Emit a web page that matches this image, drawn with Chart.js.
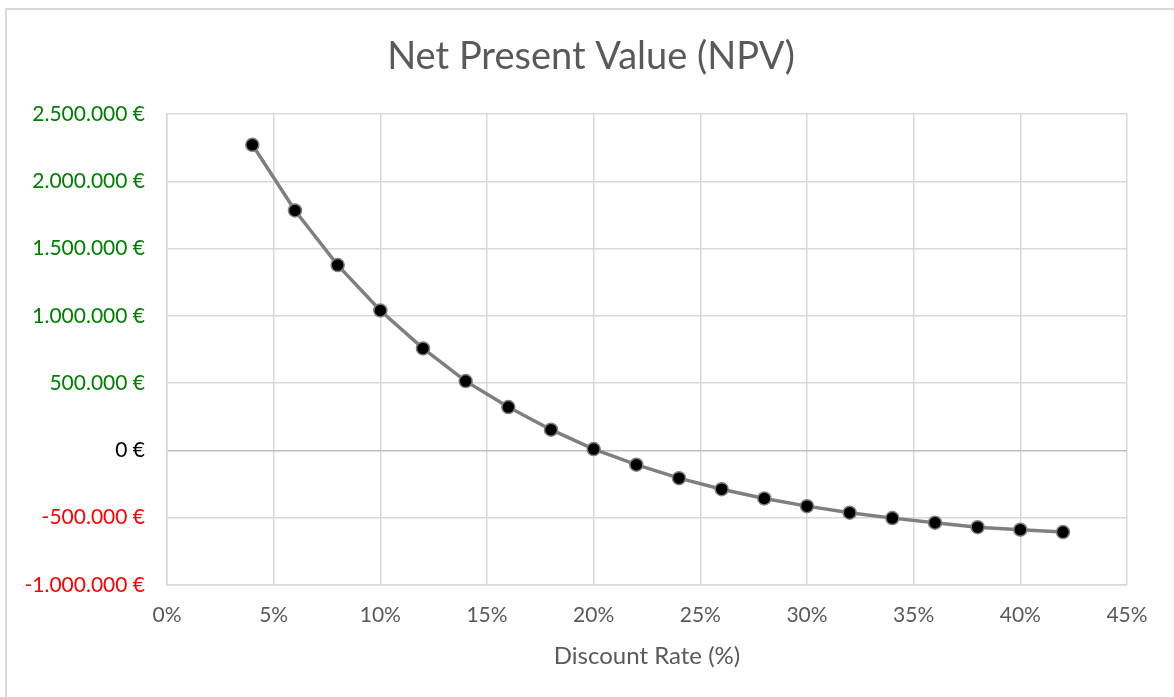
<!DOCTYPE html>
<html>
<head>
<meta charset="utf-8">
<script src="https://cdn.jsdelivr.net/npm/chart.js@4.4.1/dist/chart.umd.min.js"></script>
<style>
  html, body { margin: 0; padding: 0; background: #fff; overflow: hidden; }
  #wrap { position: absolute; left: 0; top: 0; width: 1174px; height: 697px; }
  #frame { position: absolute; left: 5px; top: 8px; width: 1200px; height: 720px;
           border-left: 2px solid #d9d9d9; border-top: 2px solid #d9d9d9; box-sizing: border-box; }
  canvas { position: absolute; left: 0; top: 0; }
</style>
</head>
<body>
<div id="wrap">
  <div id="frame"></div>
  <canvas id="c" width="1174" height="697"></canvas>
</div>
<script>
// Data
const discountRates = [4, 6, 8, 10, 12, 14, 16, 18, 20, 22, 24, 26, 28, 30, 32, 34, 36, 38, 40, 42];
const npvValues = [2271000, 1783000, 1377000, 1040000, 758000, 515000, 322000, 154000, 10000, -106000,
                   -206000, -288000, -357000, -414000, -463000, -503000, -537000, -570000, -589000, -607000];
const chartTitle = 'Net Present Value (NPV)';
const xAxisTitle = 'Discount Rate (%)';
const yMin = -1000000, yMax = 2500000, yStep = 500000;
const xMin = 0, xMax = 45, xStep = 5;

const points = discountRates.map((r, i) => ({ x: r, y: npvValues[i] }));

function fmtEuro(v) {
  const s = Math.abs(v).toString().replace(/\B(?=(\d{3})+(?!\d))/g, '.');
  return (v < 0 ? '-' : '') + s + ' €';
}

const FONT = 'Lato, "Open Sans", sans-serif';

// Chart title drawn centred on the chart frame (the frame starts a few px right of the canvas edge)
const centeredTitle = {
  id: 'centeredTitle',
  afterDraw(chart, args, opts) {
    const ctx = chart.ctx;
    ctx.save();
    ctx.font = '38px ' + FONT;
    ctx.fillStyle = '#595959';
    ctx.textAlign = 'center';
    ctx.textBaseline = 'middle';
    ctx.fillText(opts.text, opts.x, opts.y);
    ctx.restore();
  }
};

new Chart(document.getElementById('c'), {
  type: 'line',
  data: {
    datasets: [{
      data: points,
      borderColor: '#7f7f7f',
      borderWidth: 3.5,
      pointRadius: 6.5,
      pointHoverRadius: 6.5,
      pointBackgroundColor: '#000000',
      pointBorderColor: '#7f7f7f',
      pointBorderWidth: 1.5,
      tension: 0,
      fill: false
    }]
  },
  plugins: [centeredTitle],
  options: {
    responsive: false,
    animation: false,
    layout: { padding: { left: 0, right: 47, top: 114, bottom: 14 } },
    plugins: {
      legend: { display: false },
      tooltip: { enabled: false },
      title: { display: false },
      centeredTitle: { text: chartTitle, x: 591, y: 57 }
    },
    scales: {
      x: {
        type: 'linear',
        min: xMin, max: xMax,
        afterBuildTicks: (s) => {
          const t = [];
          for (let v = xMin; v <= xMax; v += xStep) t.push({ value: v });
          s.ticks = t;
        },
        afterFit: (s) => { s.height = 98; },
        grid: { color: '#d9d9d9', lineWidth: 1.5, drawTicks: false },
        border: { color: '#d9d9d9', width: 1.5 },
        ticks: {
          color: '#595959',
          padding: 18,
          font: { family: FONT, size: 21 },
          callback: (v) => v + '%'
        },
        title: {
          display: true,
          text: xAxisTitle,
          color: '#595959',
          font: { family: FONT, size: 24 },
          padding: { top: 0, bottom: 12 }
        }
      },
      y: {
        type: 'linear',
        min: yMin, max: yMax,
        afterBuildTicks: (s) => {
          const t = [];
          for (let v = yMin; v <= yMax; v += yStep) t.push({ value: v });
          s.ticks = t;
        },
        afterFit: (s) => { s.width = 167; },
        grid: {
          color: (ctx) => ctx.tick && ctx.tick.value === 0 ? '#bfbfbf' : '#d9d9d9',
          lineWidth: 1.5,
          drawTicks: false
        },
        border: { color: '#d9d9d9', width: 1.5 },
        ticks: {
          padding: 22,
          font: { family: FONT, size: 21 },
          color: (ctx) => ctx.tick.value > 0 ? '#008000' : (ctx.tick.value < 0 ? '#ff0000' : '#000000'),
          callback: (v) => fmtEuro(v)
        }
      }
    }
  }
});
</script>
</body>
</html>
